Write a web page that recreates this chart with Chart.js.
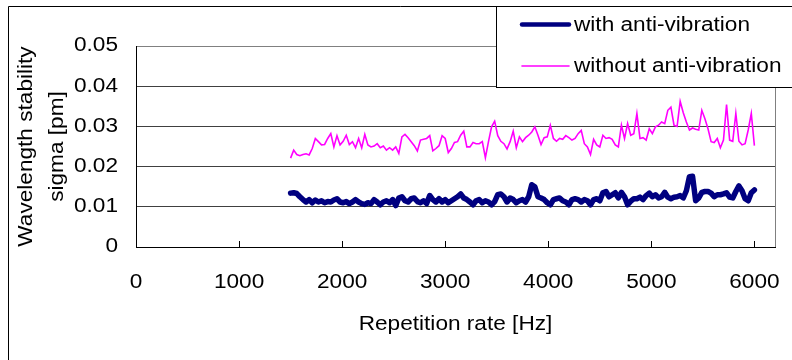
<!DOCTYPE html>
<html><head><meta charset="utf-8">
<script src="https://cdn.jsdelivr.net/npm/chart.js@4.4.1/dist/chart.umd.min.js"></script>
<style>html,body{margin:0;padding:0;background:#fff;overflow:hidden}canvas{display:block}</style>
</head><body>
<canvas id="c" width="792" height="360" style="width:792px;height:360px"></canvas>
<script>
const frequencies = [
1500,1530,1560,1590,1620,1650,1680,1710,1740,1770,
1800,1830,1860,1890,1920,1950,1980,2010,2040,2070,
2100,2130,2160,2190,2220,2250,2280,2310,2340,2370,
2400,2430,2460,2490,2520,2550,2580,2610,2640,2670,
2700,2730,2760,2790,2820,2850,2880,2910,2940,2970,
3000,3030,3060,3090,3120,3150,3180,3210,3240,3270,
3300,3330,3360,3390,3420,3450,3480,3510,3540,3570,
3600,3630,3660,3690,3720,3750,3780,3810,3840,3870,
3900,3930,3960,3990,4020,4050,4080,4110,4140,4170,
4200,4230,4260,4290,4320,4350,4380,4410,4440,4470,
4500,4530,4560,4590,4620,4650,4680,4710,4740,4770,
4800,4830,4860,4890,4920,4950,4980,5010,5040,5070,
5100,5130,5160,5190,5220,5250,5280,5310,5340,5370,
5400,5430,5460,5490,5520,5550,5580,5610,5640,5670,
5700,5730,5760,5790,5820,5850,5880,5910,5940,5970,
6000];

const withAntiVibration = [
0.0134,0.0135,0.0133,0.0125,0.0118,0.0112,0.0118,0.0110,0.0117,0.0112,
0.0115,0.0110,0.0113,0.0112,0.0117,0.0120,0.0112,0.0110,0.0113,0.0108,
0.0112,0.0118,0.0112,0.0108,0.0106,0.0110,0.0108,0.0118,0.0112,0.0105,
0.0112,0.0115,0.0110,0.0118,0.0103,0.0122,0.0125,0.0115,0.0112,0.0120,
0.0122,0.0113,0.0110,0.0115,0.0108,0.0128,0.0118,0.0112,0.0120,0.0112,
0.0118,0.0110,0.0115,0.0120,0.0125,0.0132,0.0122,0.0118,0.0112,0.0105,
0.0115,0.0118,0.0110,0.0115,0.0112,0.0105,0.0113,0.0130,0.0132,0.0125,
0.0112,0.0122,0.0118,0.0110,0.0115,0.0118,0.0112,0.0125,0.0155,0.0150,
0.0125,0.0122,0.0118,0.0110,0.0105,0.0118,0.0120,0.0122,0.0115,0.0112,
0.0105,0.0118,0.0120,0.0118,0.0112,0.0118,0.0115,0.0105,0.0118,0.0120,
0.0115,0.0135,0.0138,0.0125,0.0130,0.0135,0.0122,0.0136,0.0125,0.0105,
0.0114,0.0120,0.0120,0.0124,0.0118,0.0128,0.0134,0.0125,0.0130,0.0122,
0.0125,0.0136,0.0124,0.0120,0.0124,0.0125,0.0128,0.0122,0.0140,0.0175,
0.0176,0.0115,0.0122,0.0136,0.0138,0.0138,0.0134,0.0125,0.0130,0.0130,
0.0132,0.0135,0.0124,0.0122,0.0138,0.0152,0.0140,0.0120,0.0115,0.0135,
0.0142];

const withoutAntiVibration = [
0.0221,0.0241,0.0230,0.0227,0.0230,0.0232,0.0229,0.0245,0.0270,0.0262,
0.0254,0.0255,0.0270,0.0282,0.0249,0.0277,0.0254,0.0263,0.0278,0.0255,
0.0262,0.0247,0.0270,0.0247,0.0280,0.0254,0.0249,0.0251,0.0257,0.0247,
0.0251,0.0241,0.0247,0.0241,0.0249,0.0233,0.0274,0.0280,0.0272,0.0262,
0.0252,0.0239,0.0266,0.0268,0.0270,0.0277,0.0239,0.0245,0.0252,0.0277,
0.0270,0.0235,0.0245,0.0260,0.0262,0.0278,0.0288,0.0249,0.0249,0.0260,
0.0257,0.0257,0.0262,0.0222,0.0262,0.0299,0.0313,0.0277,0.0263,0.0257,
0.0244,0.0262,0.0288,0.0247,0.0274,0.0262,0.0272,0.0278,0.0286,0.0299,
0.0278,0.0255,0.0272,0.0274,0.0303,0.0270,0.0263,0.0270,0.0268,0.0277,
0.0272,0.0266,0.0270,0.0282,0.0290,0.0257,0.0249,0.0230,0.0268,0.0254,
0.0249,0.0278,0.0270,0.0272,0.0268,0.0254,0.0249,0.0303,0.0270,0.0307,
0.0278,0.0282,0.0332,0.0270,0.0272,0.0266,0.0294,0.0282,0.0299,0.0303,
0.0311,0.0307,0.0340,0.0348,0.0303,0.0300,0.0362,0.0334,0.0311,0.0291,
0.0296,0.0293,0.0291,0.0340,0.0319,0.0294,0.0262,0.0260,0.0270,0.0247,
0.0266,0.0354,0.0266,0.0263,0.0332,0.0263,0.0254,0.0257,0.0291,0.0332,
0.0252];

const xTickValues = [0, 1000, 2000, 3000, 4000, 5000, 6000];
const yTickValues = [0, 0.01, 0.02, 0.03, 0.04, 0.05];
const seriesLabels = ['with anti-vibration', 'without anti-vibration'];
const xTitle = 'Repetition rate [Hz]';
const yTitle = ['Wavelength stability', 'sigma [pm]'];

const FONT = '"Liberation Sans", Arial, Helvetica, sans-serif';
const SX = 1.16; // horizontal text stretch seen in the reference rendering

const canvas = document.getElementById('c');
const ctx = canvas.getContext('2d');
const baseFill = CanvasRenderingContext2D.prototype.fillText;
ctx.fillText = function (text, x, y) {
  this.save();
  this.translate(x, y);
  this.scale(SX, 1);
  baseFill.call(this, text, 0, 0);
  this.restore();
};

const framePlugin = {
  id: 'frame',
  beforeDraw(chart) {
    const c = chart.ctx;
    c.save();
    c.fillStyle = '#fff';
    c.fillRect(0, 0, chart.width, chart.height);
    c.strokeStyle = '#000';
    c.lineWidth = 1;
    c.beginPath();
    c.moveTo(8.5, 362); c.lineTo(8.5, 6.5); c.lineTo(800, 6.5);
    c.stroke();
    c.restore();
  },
  afterDraw(chart) {
    const c = chart.ctx;
    const a = chart.chartArea;
    c.save();
    c.strokeStyle = '#808080';
    c.lineWidth = 1;
    const rx = Math.round(a.right) + 0.5;
    c.beginPath(); c.moveTo(rx, a.top); c.lineTo(rx, a.bottom); c.stroke();
    // legend box
    c.fillStyle = '#fff';
    c.fillRect(496.5, 6.5, 400, 81);
    c.strokeStyle = '#000';
    c.strokeRect(496.5, 6.5, 400, 81);
    const lineY = [24.5, 66];
    const textY = [25.5, 67];
    c.font = '19.5px ' + FONT;
    c.textAlign = 'left';
    c.textBaseline = 'middle';
    chart.data.datasets.forEach((d, i) => {
      c.strokeStyle = d.borderColor;
      c.lineWidth = Math.min(d.borderWidth, 4.5);
      c.lineCap = 'round';
      c.beginPath(); c.moveTo(522, lineY[i]); c.lineTo(569, lineY[i]); c.stroke();
      c.fillStyle = '#000';
      c.fillText(d.label, 574, textY[i]);
    });
    c.restore();
  }
};

Chart.defaults.font.family = FONT;
Chart.defaults.color = '#000';

new Chart(ctx, {
  type: 'line',
  data: {
    datasets: [
      {
        label: seriesLabels[0],
        data: frequencies.map((f, i) => ({ x: f, y: withAntiVibration[i] })),
        borderColor: '#000080',
        borderWidth: 5.5,
        pointRadius: 0,
        tension: 0,
        borderJoinStyle: 'round',
        borderCapStyle: 'round'
      },
      {
        label: seriesLabels[1],
        data: frequencies.map((f, i) => ({ x: f, y: withoutAntiVibration[i] })),
        borderColor: '#FF00FF',
        borderWidth: 1.6,
        pointRadius: 0,
        tension: 0
      }
    ]
  },
  options: {
    responsive: false,
    animation: false,
    devicePixelRatio: 1,
    layout: { padding: { left: 0, top: 46, right: 17, bottom: 0 } },
    plugins: { legend: { display: false }, tooltip: { enabled: false } },
    scales: {
      x: {
        type: 'linear', min: 0, max: 6200,
        afterBuildTicks: s => { s.ticks = xTickValues.map(v => ({ value: v })); },
        afterFit: s => { s.height = 113; s.paddingLeft = 0; s.paddingRight = 0; },
        grid: { display: true, drawOnChartArea: false, drawTicks: true, tickLength: -6, color: '#000', lineWidth: 1 },
        border: { display: true, color: '#000', width: 1 },
        ticks: { padding: 30, color: '#000', font: { size: 19.5 }, maxRotation: 0, autoSkip: false, callback: v => String(v) },
        title: { display: true, text: xTitle, color: '#000', font: { size: 19.5 }, padding: { top: 0, bottom: 24 } }
      },
      y: {
        type: 'linear', min: 0, max: 0.05,
        afterBuildTicks: s => { s.ticks = yTickValues.map(v => ({ value: v })); },
        afterFit: s => { s.width = 136; s.paddingTop = 0; s.paddingBottom = 0; },
        grid: { drawTicks: false, color: c => (c.tick && c.tick.value >= 0.05 ? '#808080' : '#404040'), lineWidth: 1 },
        border: { display: true, color: '#000', width: 1 },
        ticks: { padding: 18, color: '#000', font: { size: 19.5 }, callback: v => (v === 0 ? '0' : v.toFixed(2)) },
        title: { display: true, text: yTitle, color: '#000', font: { size: 19.5, lineHeight: 1.59 }, padding: { top: 11, bottom: 0 } }
      }
    }
  },
  plugins: [framePlugin]
});
</script>
</body></html>
